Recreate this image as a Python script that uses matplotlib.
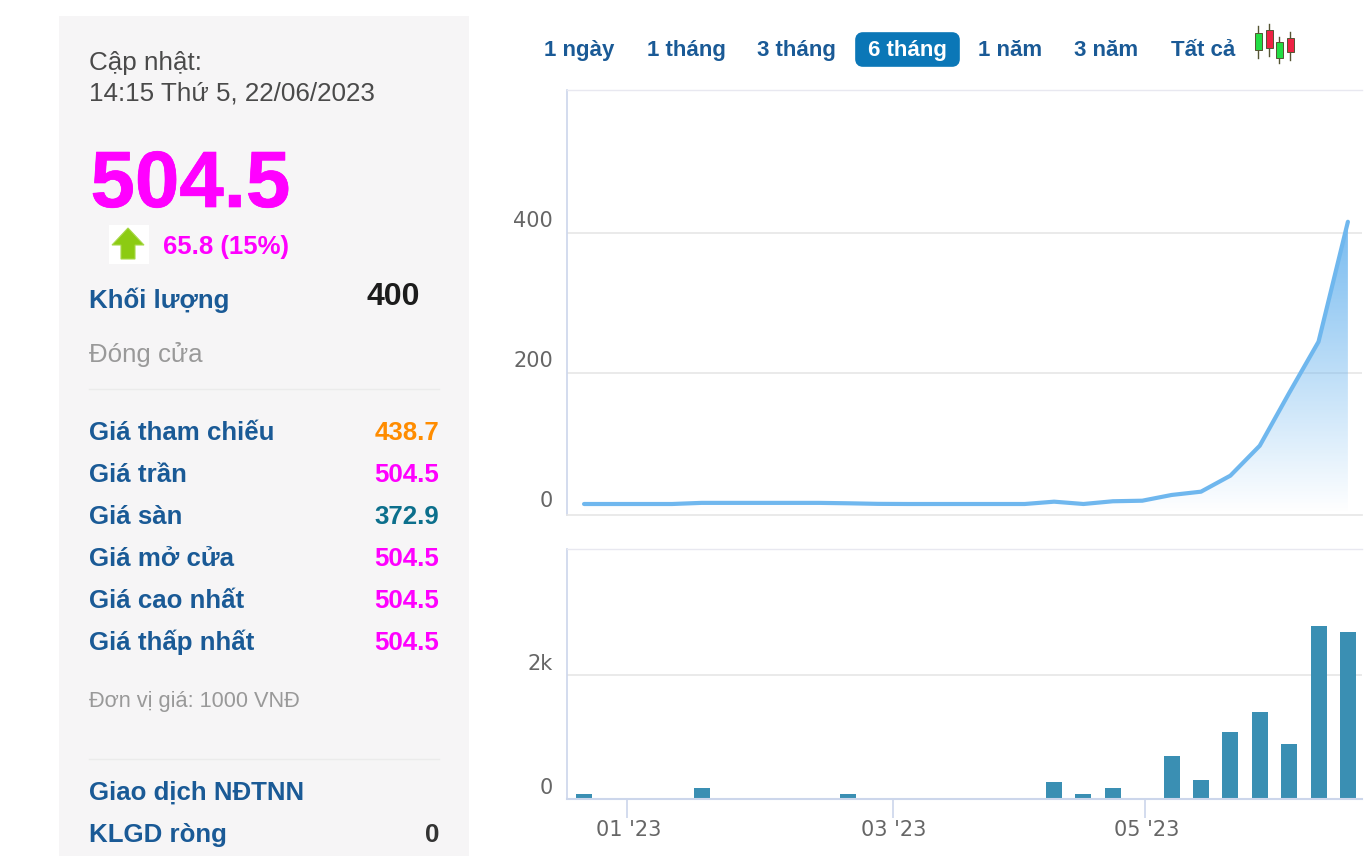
import numpy as np
import matplotlib
matplotlib.use("Agg")
import matplotlib.pyplot as plt
import matplotlib.patheffects as pe
from matplotlib.patches import Rectangle, FancyBboxPatch, Polygon
from matplotlib.transforms import ScaledTranslation

# price line, one value per week
weeks = list(range(27))
price = [12.4, 12.4, 12.4, 12.4, 14, 14, 14, 14, 14, 13.4, 12.6, 12.4, 12.4, 12.4, 12.4, 12.4,
         15.7, 12.4, 16.3, 17.1, 25.3, 30, 52.9, 95.7, 171, 244.3, 415.7]

# volume bars
vol_weeks = [0, 4, 9, 16, 17, 18, 20, 21, 22, 23, 24, 25, 26]
volume = [76, 173, 76, 269, 76, 173, 689, 302, 1076, 1398, 882, 2785, 2690]

price_ticks = [0, 200, 400]
price_labels = ["0", "200", "400"]
vol_ticks = [0, 2000]
vol_labels = ["0", "2k"]
month_ticks = [1.46, 10.5, 19.1]
month_labels = ["01 '23", "03 '23", "05 '23"]

tabs = ["1 ngày", "1 tháng", "3 tháng", "6 tháng", "1 năm", "3 năm", "Tất cả"]
tab_x = [579.5, 686, 796.5, 907.5, 1010.5, 1106.5, 1203]

rows = ["Giá tham chiếu", "Giá trần", "Giá sàn", "Giá mở cửa", "Giá cao nhất", "Giá thấp nhất"]
row_values = ["438.7", "504.5", "372.9", "504.5", "504.5", "504.5"]
row_colors = ["#ff8c00", "#ff00ff", "#0c6f8c", "#ff00ff", "#ff00ff", "#ff00ff"]

BLUE = "#1a5a96"
SANS = "Liberation Sans"
W, H = 1368, 856

fig = plt.figure(figsize=(13.68, 8.56), dpi=100)

# page layer in pixels
bg = fig.add_axes([0, 0, 1, 1])
bg.set_xlim(0, W)
bg.set_ylim(H, 0)
bg.axis("off")


def label(x, y, s, size, color, weight="normal", ha="left"):
    return bg.text(x, y, s, fontsize=size, color=color, fontweight=weight, ha=ha, va="baseline", family=SANS)


bg.add_patch(Rectangle((59, 16), 410, 840, color="#f6f5f6", lw=0))
label(89, 70, "Cập nhật:", 18.7, "#4a4a4a")
label(89, 100, "14:15 Thứ 5, 22/06/2023", 18.7, "#4a4a4a")
big = label(90.5, 207, "504.5", 57.5, "#ff00ff", "bold")
big.set_path_effects([pe.withStroke(linewidth=0.5, foreground="#ff00ff")])

# arrow icon
bg.add_patch(Rectangle((109, 225), 40, 39, color="white", lw=0))
bg.add_patch(Polygon([(128, 228), (144, 245), (135, 245), (135, 259), (121, 259), (121, 245), (112, 245)],
                     closed=True, facecolor="#8ccb12", edgecolor="#a8d84a", lw=0.8))
label(163, 254, "65.8 (15%)", 18.5, "#ff00ff", "bold")

label(89, 308, "Khối lượng", 18.6, BLUE, "bold")
label(420, 305, "400", 23, "#1c1c1c", "bold", "right")
label(89, 362, "Đóng cửa", 18.6, "#999999")
bg.plot([89, 439], [389, 389], color="#ebebeb", lw=1)

for i in range(len(rows)):
    y = 440 + 42 * i
    label(89, y, rows[i], 18.6, BLUE, "bold")
    label(439, y, row_values[i], 18.6, row_colors[i], "bold", "right")

label(89, 707, "Đơn vị giá: 1000 VNĐ", 15.7, "#999999")
bg.plot([89, 439], [759, 759], color="#ebebeb", lw=1)
label(89, 800, "Giao dịch NĐTNN", 18.6, BLUE, "bold")
label(89, 842, "KLGD ròng", 18.6, BLUE, "bold")
label(439, 842, "0", 18.6, "#333333", "bold", "right")

# range buttons
bg.add_patch(FancyBboxPatch((859, 36), 97, 27, boxstyle="round,pad=0,rounding_size=4", mutation_aspect=1,
                            facecolor="#0b77b7", edgecolor="#0b77b7", lw=5.5))
for i in range(len(tabs)):
    c = "white" if tabs[i] == "6 tháng" else BLUE
    bg.text(tab_x[i], 56, tabs[i], fontsize=16, color=c, fontweight="bold", ha="center", va="baseline", family=SANS)

# candle icon
for cx, top, bottom, y0, y1, col in [(1258, 26, 58, 33, 50, "#22dd44"), (1269, 24, 56, 30, 48, "#ee2244"),
                                     (1279, 37, 63, 42, 58, "#22dd44"), (1290, 32, 60, 38, 52, "#ee2244")]:
    bg.plot([cx, cx], [top, bottom], color="#555533", lw=1)
    bg.add_patch(Rectangle((cx - 3.5, y0), 7, y1 - y0, facecolor=col, edgecolor="#555533", lw=0.7, zorder=3))


def chart_axes(top, bottom):
    left, right = 567, 1362
    a = fig.add_axes([left / W, 1 - bottom / H, (right - left) / W, (bottom - top) / H])
    a.patch.set_alpha(0)
    a.set_xlim(-0.58, 26.48)
    a.spines["right"].set_visible(False)
    a.spines["left"].set_color("#ccd6eb")
    a.spines["left"].set_linewidth(1.2)
    a.spines["top"].set_color("#e8e8f0")
    a.spines["top"].set_linewidth(1)
    a.grid(axis="y", color="#e6e6e6", lw=1.2)
    a.set_axisbelow(True)
    a.tick_params(axis="y", length=0, pad=10, labelsize=15, labelcolor="#666666")
    return a


def lift_labels(a, dy_px):
    off = ScaledTranslation(0, dy_px / 100, fig.dpi_scale_trans)
    for t in a.get_yticklabels():
        t.set_transform(t.get_transform() + off)


# price chart
ax = chart_axes(90, 514.7)
ax.set_ylim(-2.9, 604)
ax.set_yticks(price_ticks, price_labels)
ax.set_xticks([])
ax.spines["bottom"].set_color("#e6e6e6")
ax.spines["bottom"].set_linewidth(1.2)
ax.yaxis.get_gridlines()[0].set_visible(False)

grad = np.zeros((256, 1, 4))
grad[:, 0, 0] = 0.44
grad[:, 0, 1] = 0.72
grad[:, 0, 2] = 0.94
grad[:, 0, 3] = np.linspace(0, 0.95, 256)
img = ax.imshow(grad, origin="lower", aspect="auto", extent=(weeks[0], weeks[-1], 0, max(price)), zorder=1)
ax.set_xlim(-0.58, 26.48)
ax.set_ylim(-2.9, 604)
poly = ax.fill_between(weeks, price, 0, color="none")
img.set_clip_path(poly.get_paths()[0], transform=ax.transData)
ax.plot(weeks, price, color="#6fb7ee", lw=3, zorder=2, solid_capstyle="round")
lift_labels(ax, 14)

# volume chart
ax2 = chart_axes(549, 798.7)
ax2.set_ylim(0, 4027)
ax2.bar(vol_weeks, volume, width=0.545, color="#3a8fb3", zorder=2)
ax2.set_yticks(vol_ticks, vol_labels)
ax2.set_xticks(month_ticks, month_labels)
ax2.tick_params(axis="x", length=14, width=1.2, color="#ccd6eb", pad=1, labelsize=15, labelcolor="#666666")
off_x = ScaledTranslation(1.5 / 100, 0, fig.dpi_scale_trans)
for t in ax2.get_xticklabels():
    t.set_transform(t.get_transform() + off_x)
ax2.spines["bottom"].set_color("#ccd6eb")
ax2.spines["bottom"].set_linewidth(1.5)
lift_labels(ax2, 13)

fig.savefig("out.png", dpi=100)
